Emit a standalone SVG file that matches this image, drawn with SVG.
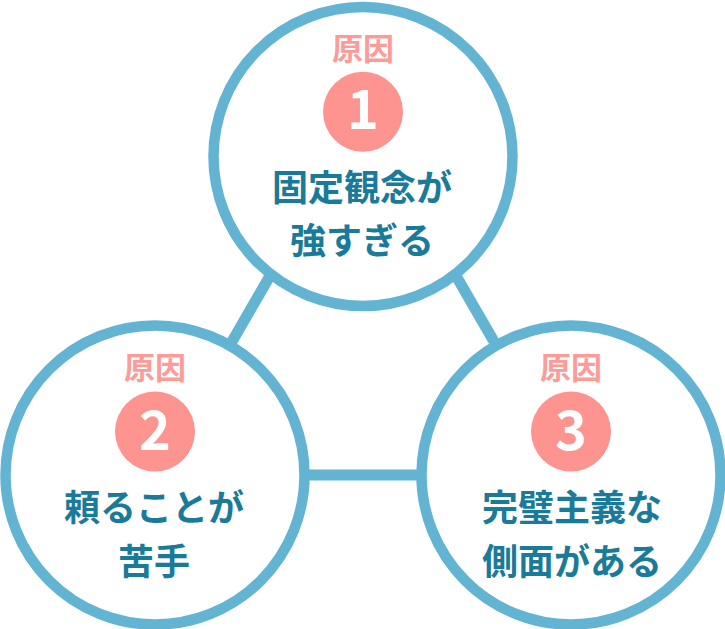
<svg xmlns="http://www.w3.org/2000/svg" width="725" height="629" viewBox="0 0 725 629">
<style>
.ring{fill:#fff;stroke:#63b4d2;stroke-width:10.5}
.link{stroke:#63b4d2;stroke-width:11;fill:none}
.badge{fill:#fd9490}
.tag{font-family:"Noto Sans CJK JP","Noto Sans",sans-serif;font-weight:700;font-size:31px;fill:#fb9c99;text-anchor:middle}
.num{font-family:"Noto Sans CJK JP","Noto Sans",sans-serif;font-weight:700;font-size:54px;fill:#fff;text-anchor:middle}
.main{font-family:"Noto Sans CJK JP","Noto Sans",sans-serif;font-weight:700;font-size:36px;fill:#1a7a9a;text-anchor:middle}
</style>
<rect width="725" height="629" fill="#fff"/>
<g id="connectors">
<line class="link" x1="363" y1="114.7" x2="155" y2="475"/>
<line class="link" x1="363" y1="114.7" x2="571" y2="475"/>
<line class="link" x1="155" y1="475" x2="571" y2="475"/>
</g>
<g id="node1">
<circle class="ring" cx="363" cy="156.5" r="149.5"/>
<text class="tag" x="363" y="59.5">原因</text>
<circle class="badge" cx="363" cy="111.7" r="40"/>
<text class="num" x="363" y="128.5">1</text>
<text class="main" x="362" y="201">固定観念が</text>
<text class="main" x="362" y="254">強すぎる</text>
</g>
<g id="node2">
<circle class="ring" cx="155" cy="475" r="149.5"/>
<text class="tag" x="155" y="378.5">原因</text>
<circle class="badge" cx="155" cy="431.5" r="40"/>
<text class="num" x="155" y="449.5">2</text>
<text class="main" x="154" y="521">頼ることが</text>
<text class="main" x="154" y="575">苦手</text>
</g>
<g id="node3">
<circle class="ring" cx="571" cy="475" r="149.5"/>
<text class="tag" x="571" y="378.5">原因</text>
<circle class="badge" cx="571" cy="431.5" r="40"/>
<text class="num" x="571" y="449.5">3</text>
<text class="main" x="572" y="521">完璧主義な</text>
<text class="main" x="572" y="575">側面がある</text>
</g>
</svg>
